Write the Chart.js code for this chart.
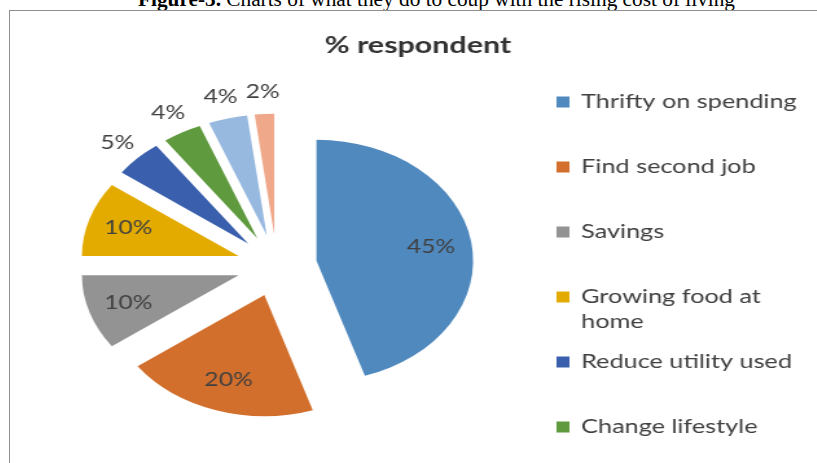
<!DOCTYPE html>
<html lang="en">
<head>
  <meta charset="UTF-8">
  <title>% respondent</title>
  <script src="https://cdn.jsdelivr.net/npm/chart.js"></script>
  <style>
    html, body {
      margin: 0;
      padding: 0;
      background: #fff;
      overflow: hidden;
      width: 817px;
      height: 463px;
    }
    .caption {
      position: absolute;
      left: 0;
      top: -11px;
      width: 873px;
      text-align: center;
      font-family: 'Liberation Serif', 'Times New Roman', serif;
      font-size: 21.3px;
      line-height: 21px;
      color: #000;
      white-space: nowrap;
    }
    .frame {
      position: absolute;
      left: 9px;
      top: 10px;
      width: 900px;
      height: 500px;
      border-left: 1px solid #8f8f8f;
      border-top: 1px solid #8f8f8f;
    }
    /* the chart is drawn narrow and widened, like the printed figure */
    .stretch {
      position: absolute;
      left: 0;
      top: 0;
      transform: scaleX(1.295);
      transform-origin: 0 0;
    }
    canvas {
      display: block;
    }
  </style>
</head>
<body>

<div class="caption"><b>Figure-3.</b> Charts of what they do to coup with the rising cost of living</div>
<div class="frame">
  <div class="stretch">
    <canvas id="pieChart" width="630" height="452"></canvas>
  </div>
</div>

<script>
const categories = [
  'Thrifty on spending',
  'Find second job',
  'Savings',
  'Growing food at home',
  'Reduce utility used',
  'Change lifestyle',
  'Buy cheaper goods',
  'Others'
];
const percentages = [45, 20, 10, 10, 5, 4, 4, 2];
const sliceColors = [
  '#4f89be', '#d36f2c', '#939393', '#e3ab00',
  '#3a60ad', '#5f9a3f', '#97b9e0', '#f0a88b'
];

const textColor = '#404040';
const explode = 31;      // every slice pulled out from the centre
const legendWidth = 218;

// pulls each slice out along its middle angle, then lets the arc draw itself
const explodedSlices = {
  id: 'explodedSlices',
  beforeDatasetDraw(chart, args) {
    const ctx = chart.ctx;
    args.meta.data.forEach(arc => {
      const mid = (arc.startAngle + arc.endAngle) / 2;
      ctx.save();
      ctx.translate(Math.cos(mid) * explode, Math.sin(mid) * explode);
      arc.draw(ctx);
      ctx.restore();
    });
    return false;
  }
};

// percent labels: big slices get them inside, small ones just outside the rim
const sliceLabels = {
  id: 'sliceLabels',
  afterDatasetsDraw(chart) {
    const ctx = chart.ctx;
    const meta = chart.getDatasetMeta(0);
    ctx.save();
    ctx.font = '19px Lato';
    ctx.fillStyle = textColor;
    ctx.textAlign = 'center';
    ctx.textBaseline = 'middle';
    meta.data.forEach((arc, i) => {
      const mid = (arc.startAngle + arc.endAngle) / 2;
      const value = chart.data.datasets[0].data[i];
      const dist = value >= 10 ? explode + arc.outerRadius * 0.74 : explode + arc.outerRadius + 22;
      ctx.fillText(value + '%', arc.x + Math.cos(mid) * dist, arc.y + Math.sin(mid) * dist);
    });
    ctx.restore();
  }
};

// legend down the right side as its own layout box, one slot per category
const sideLegend = {
  id: 'sideLegend',
  start(chart) {
    const box = {
      position: 'right',
      weight: 1000,
      fullSize: false,
      options: {},
      isHorizontal() { return false; },
      update(maxWidth, maxHeight) {
        this.width = legendWidth;
        this.height = maxHeight;
      },
      draw() {
        const ctx = chart.ctx;
        const colors = chart.data.datasets[0].backgroundColor;
        const boxX = this.left + 10, textX = this.left + 29;
        const firstY = 91, step = 65, lineGap = 25, maxWidth = 178;
        ctx.save();
        ctx.font = '19.5px Lato';
        ctx.textBaseline = 'middle';
        ctx.textAlign = 'left';
        chart.data.labels.forEach((label, i) => {
          const y = firstY + i * step;
          ctx.fillStyle = colors[i];
          ctx.fillRect(boxX, y - 5.5, 10, 11);

          const lines = [];
          let line = '';
          label.split(' ').forEach(word => {
            const test = line ? line + ' ' + word : word;
            if (line && ctx.measureText(test).width > maxWidth) {
              lines.push(line);
              line = word;
            } else {
              line = test;
            }
          });
          lines.push(line);

          ctx.fillStyle = textColor;
          lines.forEach((l, k) => ctx.fillText(l, textX, y + k * lineGap));
        });
        ctx.restore();
      }
    };
    Chart.layouts.addBox(chart, box);
  }
};

new Chart(document.getElementById('pieChart'), {
  type: 'pie',
  data: {
    labels: categories,
    datasets: [{
      data: percentages,
      backgroundColor: sliceColors,
      borderWidth: 0,
      radius: 121
    }]
  },
  options: {
    responsive: false,
    animation: false,
    devicePixelRatio: 1,
    layout: {
      padding: { left: 0, right: 0, top: 0, bottom: 1 }
    },
    plugins: {
      legend: { display: false },
      tooltip: { enabled: false },
      title: {
        display: true,
        text: '% respondent',
        color: '#333333',
        font: { family: 'Lato', size: 23.5, weight: 'bold' },
        padding: { top: 20, bottom: 10 }
      }
    }
  },
  plugins: [explodedSlices, sliceLabels, sideLegend]
});
</script>

</body>
</html>
